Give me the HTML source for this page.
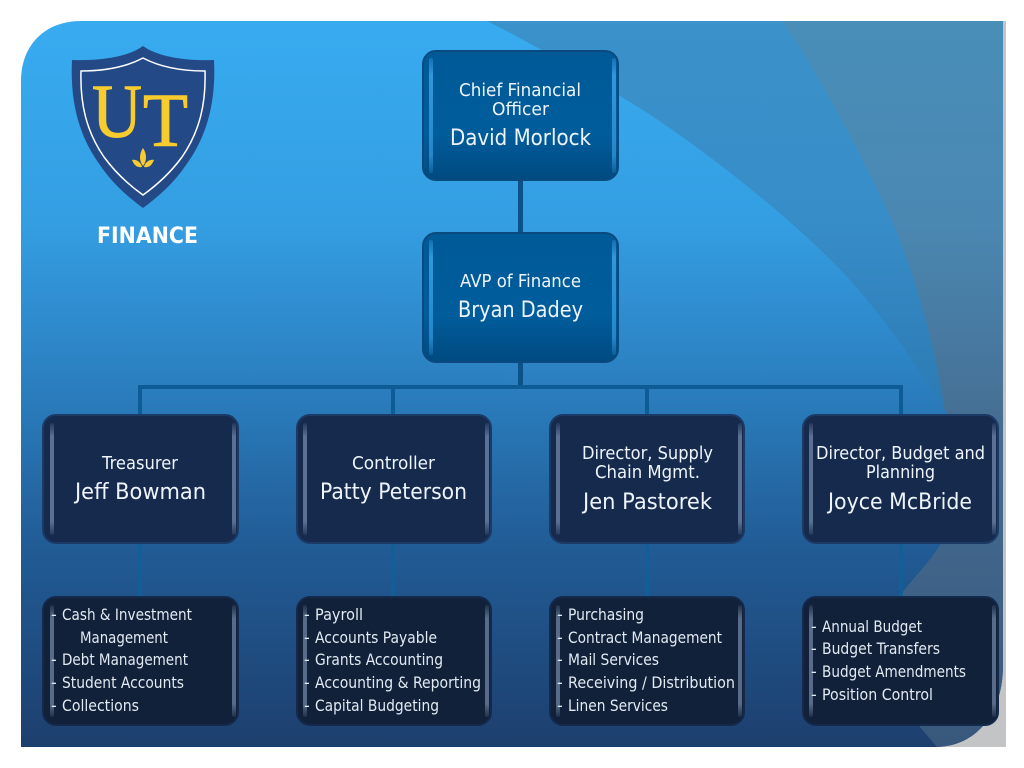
<!DOCTYPE html>
<html><head><meta charset="utf-8"><title>UT Finance Org Chart</title>
<style>html,body{margin:0;padding:0;background:#fff;width:1024px;height:768px;overflow:hidden}svg{display:block}
.t{font-family:"DejaVu Sans","Liberation Sans",sans-serif;fill:#eef4fa}
.ti{font-size:18px}.na{font-size:22.5px}.li{font-size:16px;fill:#e2eaf2}</style></head>
<body>
<svg width="1024" height="768" viewBox="0 0 1024 768" xmlns="http://www.w3.org/2000/svg">
<defs>
<linearGradient id="bg" x1="0" y1="21" x2="0" y2="747" gradientUnits="userSpaceOnUse">
<stop offset="0" stop-color="#38abf0"/><stop offset=".28" stop-color="#349ee2"/><stop offset=".52" stop-color="#2a7cbc"/><stop offset=".72" stop-color="#215c96"/><stop offset="1" stop-color="#1d3f6e"/></linearGradient>
<linearGradient id="b1" x1="0" y1="21" x2="0" y2="420" gradientUnits="userSpaceOnUse">
<stop offset="0" stop-color="#3b91c9"/><stop offset=".5" stop-color="#378dc8"/><stop offset="1" stop-color="#2b79b2"/></linearGradient>
<linearGradient id="b2" x1="0" y1="21" x2="0" y2="420" gradientUnits="userSpaceOnUse">
<stop offset="0" stop-color="#488eb9"/><stop offset=".5" stop-color="#4a88b2"/><stop offset="1" stop-color="#466f94"/></linearGradient>
<linearGradient id="b3" x1="0" y1="400" x2="0" y2="747" gradientUnits="userSpaceOnUse">
<stop offset="0" stop-color="#466f94"/><stop offset="1" stop-color="#38587c"/></linearGradient>
<linearGradient id="blu" x1="0" y1="0" x2="0" y2="1"><stop offset="0" stop-color="#005a98"/><stop offset=".65" stop-color="#005c9b"/><stop offset="1" stop-color="#004a80"/></linearGradient>
<linearGradient id="st" x1="0" y1="0" x2="0" y2="1"><stop offset="0" stop-color="#9fb8d8" stop-opacity=".1"/><stop offset=".12" stop-color="#9fb8d8" stop-opacity=".5"/><stop offset=".88" stop-color="#9fb8d8" stop-opacity=".5"/><stop offset="1" stop-color="#9fb8d8" stop-opacity=".1"/></linearGradient>
<linearGradient id="stb" x1="0" y1="0" x2="0" y2="1"><stop offset="0" stop-color="#3fa6ea" stop-opacity=".3"/><stop offset=".15" stop-color="#3fa6ea" stop-opacity=".8"/><stop offset=".85" stop-color="#3fa6ea" stop-opacity=".6"/><stop offset="1" stop-color="#3fa6ea" stop-opacity=".2"/></linearGradient>
</defs>
<rect width="1024" height="768" fill="#fff"/>
<rect x="940" y="21" width="66" height="726" fill="#c2c4c6"/>
<path d="M81 21H1003V665C1003 715 975 747 935 747H21V81C21 45 45 21 81 21Z" fill="url(#bg)"/>
<!-- bands -->
<path d="M487 21C560 58 613 92 613 92C680 130 790 215 847 277C885 318 920 370 945 412L1003 412V21Z" fill="url(#b1)"/>
<path d="M782 21C810 60 860 150 893 223C915 275 935 345 945 412L1003 412V21Z" fill="url(#b2)"/>
<path d="M945 410C965 440 972 510 927 563L900 595L880 680L937 747C975 745 1003 715 1003 665V410Z" fill="url(#b3)"/>
<!-- connectors -->
<g fill="#0b5288">
<rect x="518" y="181" width="5" height="52"/>
<rect x="518" y="362" width="5" height="27"/>
<rect x="138" y="385" width="765" height="4" fill="#0e5c96"/>
<rect x="138" y="385" width="4" height="30" fill="#0e5c96"/>
<rect x="391" y="385" width="4" height="30" fill="#0e5c96"/>
<rect x="645" y="385" width="4" height="30" fill="#0e5c96"/>
<rect x="899" y="385" width="4" height="30" fill="#0e5c96"/>
<rect x="138" y="544" width="4" height="53" fill="#125f98"/>
<rect x="391" y="544" width="4" height="53" fill="#125f98"/>
<rect x="645" y="544" width="4" height="53" fill="#125f98"/>
<rect x="899" y="544" width="4" height="53" fill="#125f98"/>
</g>
<!-- top boxes -->
<g stroke="#0b4a7e" stroke-width="2">
<rect x="423" y="51" width="195" height="129" rx="13" fill="url(#blu)"/>
<rect x="423" y="233" width="195" height="129" rx="13" fill="url(#blu)"/>
</g>
<g fill="url(#stb)">
<rect x="429" y="58" width="4" height="115" rx="2"/><rect x="612" y="58" width="4" height="115" rx="2"/>
<rect x="429" y="240" width="4" height="115" rx="2"/><rect x="612" y="240" width="4" height="115" rx="2"/>
</g>
<!-- navy boxes -->
<g stroke="#1c3a66" stroke-width="2" fill="#162a4e">
<rect x="43" y="415" width="195" height="128" rx="13"/>
<rect x="297" y="415" width="194" height="128" rx="13"/>
<rect x="550" y="415" width="194" height="128" rx="13"/>
<rect x="803" y="415" width="195" height="128" rx="13"/>
</g>
<g stroke="#14294c" stroke-width="2" fill="#11213a">
<rect x="43" y="597" width="195" height="128" rx="13"/>
<rect x="297" y="597" width="194" height="128" rx="13"/>
<rect x="550" y="597" width="194" height="128" rx="13"/>
<rect x="803" y="597" width="195" height="128" rx="13"/>
</g>
<g fill="url(#st)">
<rect x="50" y="423" width="4" height="112" rx="2"/><rect x="232" y="423" width="4" height="112" rx="2"/>
<rect x="303" y="423" width="4" height="112" rx="2"/><rect x="485" y="423" width="4" height="112" rx="2"/>
<rect x="556" y="423" width="4" height="112" rx="2"/><rect x="738" y="423" width="4" height="112" rx="2"/>
<rect x="809" y="423" width="4" height="112" rx="2"/><rect x="992" y="423" width="4" height="112" rx="2"/>
<rect x="50" y="605" width="4" height="112" rx="2"/><rect x="232" y="605" width="4" height="112" rx="2"/>
<rect x="303" y="605" width="4" height="112" rx="2"/><rect x="485" y="605" width="4" height="112" rx="2"/>
<rect x="556" y="605" width="4" height="112" rx="2"/><rect x="738" y="605" width="4" height="112" rx="2"/>
<rect x="809" y="605" width="4" height="112" rx="2"/><rect x="992" y="605" width="4" height="112" rx="2"/>
</g>
<!-- shield -->
<path d="M143 46C128 57 100 61 72 60C70 100 78 135 100 165C112 183 128 197 143 208C158 197 174 183 186 165C208 135 216 100 214 60C186 61 158 57 143 46Z" fill="#234a87"/>
<path d="M143 58C126 67 106 71 81 71C80 103 86 131 104 157C115 172 129 185 143 195C157 185 171 172 182 157C200 131 206 103 205 71C180 71 160 67 143 58Z" fill="#234a87" stroke="#fff" stroke-width="1.5"/>
<g font-family="Liberation Serif,serif" font-size="76" fill="#f8cb2e" stroke="#f8cb2e" stroke-width="1">
<text x="92" y="137" textLength="50" lengthAdjust="spacingAndGlyphs">U</text>
<text x="143" y="146" textLength="45" lengthAdjust="spacingAndGlyphs">T</text>
</g>
<path d="M143 148C139 154 139 161 143 166C147 161 147 154 143 148Z" fill="#f8cb2e"/>
<path d="M132 160C136 159 141 162 142 167C137 168 134 165 132 160Z" fill="#f8cb2e"/>
<path d="M154 160C150 159 145 162 144 167C149 168 152 165 154 160Z" fill="#f8cb2e"/>
<text x="97" y="243" font-family="DejaVu Sans,sans-serif" font-weight="700" font-size="22" fill="#fff" textLength="101" lengthAdjust="spacingAndGlyphs">FINANCE</text>
<!-- titles -->
<g>
<text class="t ti" x="459" y="96" textLength="122" lengthAdjust="spacingAndGlyphs">Chief Financial</text>
<text class="t ti" x="492" y="115" textLength="57" lengthAdjust="spacingAndGlyphs">Officer</text>
<text class="t na" x="450" y="145" textLength="141" lengthAdjust="spacingAndGlyphs">David Morlock</text>
<text class="t ti" x="460" y="287" textLength="121" lengthAdjust="spacingAndGlyphs">AVP of Finance</text>
<text class="t na" x="458" y="317" textLength="125" lengthAdjust="spacingAndGlyphs">Bryan Dadey</text>
<text class="t ti" x="102" y="469" textLength="76" lengthAdjust="spacingAndGlyphs">Treasurer</text>
<text class="t na" x="75" y="499" textLength="131" lengthAdjust="spacingAndGlyphs">Jeff Bowman</text>
<text class="t ti" x="352" y="469" textLength="83" lengthAdjust="spacingAndGlyphs">Controller</text>
<text class="t na" x="320" y="499" textLength="147" lengthAdjust="spacingAndGlyphs">Patty Peterson</text>
<text class="t ti" x="582" y="459" textLength="131" lengthAdjust="spacingAndGlyphs">Director, Supply</text>
<text class="t ti" x="595" y="478" textLength="105" lengthAdjust="spacingAndGlyphs">Chain Mgmt.</text>
<text class="t na" x="583" y="509" textLength="129" lengthAdjust="spacingAndGlyphs">Jen Pastorek</text>
<text class="t ti" x="816" y="459" textLength="169" lengthAdjust="spacingAndGlyphs">Director, Budget and</text>
<text class="t ti" x="866" y="478" textLength="69" lengthAdjust="spacingAndGlyphs">Planning</text>
<text class="t na" x="828" y="509" textLength="144" lengthAdjust="spacingAndGlyphs">Joyce McBride</text>
</g>
<!-- lists -->
<g>
<text class="t li" x="51" y="620">-</text><text class="t li" x="62" y="620" textLength="130" lengthAdjust="spacingAndGlyphs">Cash &amp; Investment</text>
<text class="t li" x="80" y="643" textLength="88" lengthAdjust="spacingAndGlyphs">Management</text>
<text class="t li" x="51" y="665">-</text><text class="t li" x="62" y="665" textLength="126" lengthAdjust="spacingAndGlyphs">Debt Management</text>
<text class="t li" x="51" y="688">-</text><text class="t li" x="62" y="688" textLength="122" lengthAdjust="spacingAndGlyphs">Student Accounts</text>
<text class="t li" x="51" y="711">-</text><text class="t li" x="62" y="711" textLength="77" lengthAdjust="spacingAndGlyphs">Collections</text>

<text class="t li" x="304" y="620">-</text><text class="t li" x="315" y="620" textLength="48" lengthAdjust="spacingAndGlyphs">Payroll</text>
<text class="t li" x="304" y="643">-</text><text class="t li" x="315" y="643" textLength="122" lengthAdjust="spacingAndGlyphs">Accounts Payable</text>
<text class="t li" x="304" y="665">-</text><text class="t li" x="315" y="665" textLength="128" lengthAdjust="spacingAndGlyphs">Grants Accounting</text>
<text class="t li" x="304" y="688">-</text><text class="t li" x="315" y="688" textLength="166" lengthAdjust="spacingAndGlyphs">Accounting &amp; Reporting</text>
<text class="t li" x="304" y="711">-</text><text class="t li" x="315" y="711" textLength="124" lengthAdjust="spacingAndGlyphs">Capital Budgeting</text>

<text class="t li" x="557" y="620">-</text><text class="t li" x="568" y="620" textLength="76" lengthAdjust="spacingAndGlyphs">Purchasing</text>
<text class="t li" x="557" y="643">-</text><text class="t li" x="568" y="643" textLength="154" lengthAdjust="spacingAndGlyphs">Contract Management</text>
<text class="t li" x="557" y="665">-</text><text class="t li" x="568" y="665" textLength="91" lengthAdjust="spacingAndGlyphs">Mail Services</text>
<text class="t li" x="557" y="688">-</text><text class="t li" x="568" y="688" textLength="167" lengthAdjust="spacingAndGlyphs">Receiving / Distribution</text>
<text class="t li" x="557" y="711">-</text><text class="t li" x="568" y="711" textLength="100" lengthAdjust="spacingAndGlyphs">Linen Services</text>

<text class="t li" x="811" y="632">-</text><text class="t li" x="822" y="632" textLength="100" lengthAdjust="spacingAndGlyphs">Annual Budget</text>
<text class="t li" x="811" y="654">-</text><text class="t li" x="822" y="654" textLength="118" lengthAdjust="spacingAndGlyphs">Budget Transfers</text>
<text class="t li" x="811" y="677">-</text><text class="t li" x="822" y="677" textLength="144" lengthAdjust="spacingAndGlyphs">Budget Amendments</text>
<text class="t li" x="811" y="700">-</text><text class="t li" x="822" y="700" textLength="111" lengthAdjust="spacingAndGlyphs">Position Control</text>
</g>
</svg>
</body></html>
